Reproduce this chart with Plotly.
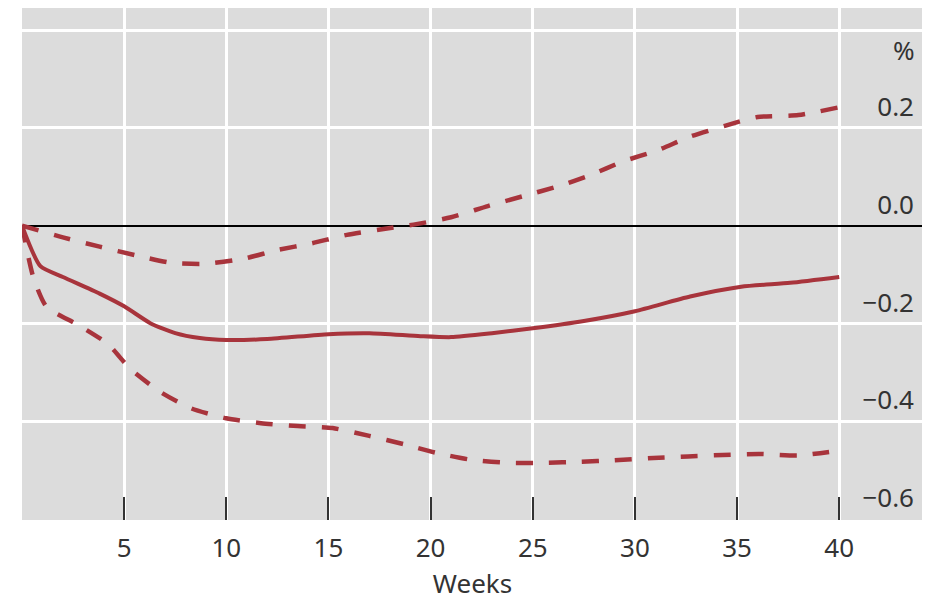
import plotly.graph_objects as go

# Data (weeks, % deviation)
central_weeks = [0, 0.9, 2, 3.8, 5, 6.3, 7.5, 8.7, 10, 12, 15, 17, 19.5, 21, 23, 25, 27.5, 30, 32.7, 35.2, 37.6, 40]
central_vals = [0, -0.083, -0.105, -0.139, -0.165, -0.2, -0.22, -0.23, -0.234, -0.232, -0.222, -0.22,
                -0.226, -0.228, -0.22, -0.21, -0.195, -0.175, -0.145, -0.125, -0.117, -0.105]

upper_weeks = [0, 2, 3.8, 5.6, 7.3, 9, 10.8, 12.5, 14.2, 15.9, 17.7, 19.3, 21, 22.8, 24.5, 26.2, 27.8,
               29.4, 31.1, 32.7, 34.4, 36, 38, 40]
upper_vals = [0, -0.024, -0.043, -0.061, -0.076, -0.078, -0.068, -0.05, -0.036, -0.019, -0.007, 0.003,
              0.017, 0.04, 0.06, 0.08, 0.103, 0.131, 0.154, 0.182, 0.204, 0.222, 0.226, 0.242]

lower_weeks = [0, 0.55, 1.2, 2.7, 4.2, 5.3, 6.8, 8.3, 10, 11.7, 13.5, 15.2, 17, 18.7, 20.3, 22, 23.8,
               25.6, 27.3, 29, 30.9, 32.6, 34.3, 36.1, 38, 40]
lower_vals = [0, -0.105, -0.166, -0.202, -0.242, -0.293, -0.341, -0.374, -0.394, -0.404, -0.41, -0.414,
              -0.43, -0.447, -0.465, -0.479, -0.485, -0.485, -0.483, -0.48, -0.475, -0.472, -0.469,
              -0.467, -0.47, -0.46]

x_ticks = [0, 5, 10, 15, 20, 25, 30, 35, 40]
x_labels = ["", "5", "10", "15", "20", "25", "30", "35", "40"]
y_ticks = [-0.6, -0.4, -0.2, 0.0, 0.2, 0.4]
y_labels = ["\u22120.6", "\u22120.4", "\u22120.2", "0.0", "0.2", ""]
unit_label = "%"

RED = "#a8343c"
FONT = "Noto Sans"
TXT = "#333333"

fig = go.Figure()
fig.add_trace(go.Scatter(x=upper_weeks, y=upper_vals, mode="lines",
                         line=dict(color=RED, width=4.5, dash="17px,16px", shape="spline", smoothing=0.6),
                         hoverinfo="skip"))
fig.add_trace(go.Scatter(x=lower_weeks, y=lower_vals, mode="lines",
                         line=dict(color=RED, width=4.5, dash="17px,16px", shape="spline", smoothing=0.6),
                         hoverinfo="skip"))
fig.add_trace(go.Scatter(x=central_weeks, y=central_vals, mode="lines",
                         line=dict(color=RED, width=4, shape="spline", smoothing=0.6),
                         hoverinfo="skip"))

fig.update_layout(
    width=922, height=596,
    margin=dict(l=14, r=7, t=0, b=84, autoexpand=False),
    paper_bgcolor="white",
    plot_bgcolor="#dcdcdc",
    showlegend=False,
    font=dict(family=FONT, size=26, color=TXT),
    xaxis=dict(
        range=[0, 44.1],
        tickvals=x_ticks, ticktext=x_labels,
        ticks="inside", ticklen=23, tickwidth=2, tickcolor=TXT,
        showgrid=True, gridcolor="white", gridwidth=3,
        zeroline=False, showline=False,
        automargin=False,
        tickfont=dict(size=26, color=TXT),
        title=dict(text="Weeks", font=dict(size=26, color=TXT), standoff=4),
        ticklabelstandoff=10,
    ),
    yaxis=dict(
        range=[-0.602, 0.445],
        side="right",
        tickvals=y_ticks, ticktext=y_labels,
        ticklabelposition="inside",
        ticks="",
        ticklabelshift=-21,
        ticklabelstandoff=6,
        showgrid=True, gridcolor="white", gridwidth=3,
        zeroline=True, zerolinecolor="black", zerolinewidth=2,
        showline=False,
        automargin=False,
        tickfont=dict(size=26, color=TXT),
    ),
    annotations=[dict(text=unit_label, xref="paper", yref="y", x=1, y=0.36, xanchor="right",
                      yanchor="middle", showarrow=False, xshift=-6,
                      font=dict(size=26, color=TXT))],
)

fig.write_html("out.html")
